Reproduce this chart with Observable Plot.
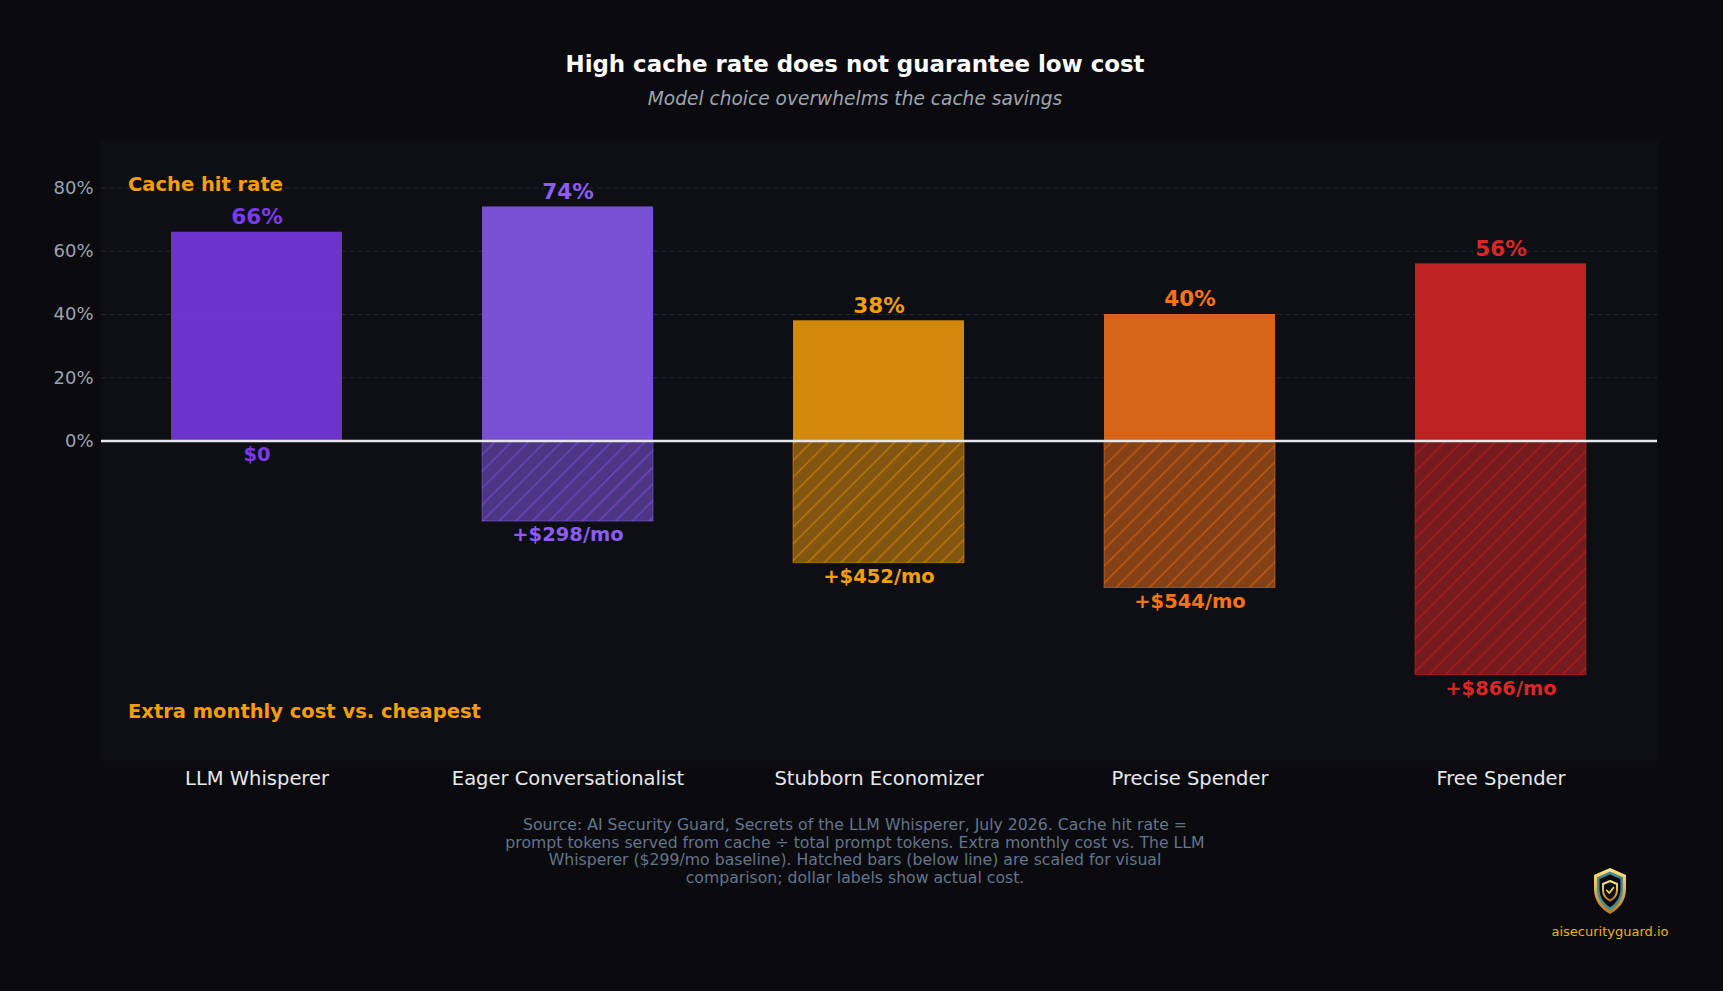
<!DOCTYPE html>
<html>
<head>
<meta charset="utf-8">
<script src="https://cdn.jsdelivr.net/npm/d3@7"></script>
<script src="https://cdn.jsdelivr.net/npm/@observablehq/plot@0.6"></script>
<style>
  html, body { margin: 0; padding: 0; background: #0b0b0f; }
  body { width: 1723px; height: 991px; position: relative; overflow: hidden; font-family: "DejaVu Sans", sans-serif; }
  #head { position: relative; height: 120px; width: 1710px; }
  #title { position: absolute; left: 0; right: 0; top: 52px; text-align: center; font-size: 22.9px; line-height: 25px; font-weight: bold; color: #ffffff; }
  #subtitle { position: absolute; left: 0; right: 0; top: 88px; text-align: center; font-size: 18.6px; line-height: 22px; font-style: italic; color: #9ca3af; }
  #chart svg { display: block; }
  #caption { width: 1710px; text-align: center; color: #64748b; font-size: 15.7px; line-height: 17.6px; padding-top: 16px; }
  #brand { position: absolute; left: 1550px; top: 867px; width: 120px; text-align: center; }
  #brand svg { display: block; margin: 0 auto; }
  #brand div { margin-top: 9px; font-size: 13px; color: #eab308; }
</style>
</head>
<body>
<div id="head">
  <div id="title">High cache rate does not guarantee low cost</div>
  <div id="subtitle">Model choice overwhelms the cache savings</div>
</div>
<div id="chart"></div>
<div id="caption">Source: AI Security Guard, Secrets of the LLM Whisperer, July 2026. Cache hit rate =<br>prompt tokens served from cache ÷ total prompt tokens. Extra monthly cost vs. The LLM<br>Whisperer ($299/mo baseline). Hatched bars (below line) are scaled for visual<br>comparison; dollar labels show actual cost.</div>
<div id="brand">
  <svg width="36" height="48" viewBox="0 0 36 48">
    <defs>
      <linearGradient id="gold" x1="0" y1="0" x2="0" y2="1">
        <stop offset="0" stop-color="#fde68a"/>
        <stop offset="1" stop-color="#b7791f"/>
      </linearGradient>
    </defs>
    <path d="M18 1 L34 8 V22 C34 34 27 42 18 47 C9 42 2 34 2 22 V8 Z" fill="url(#gold)"/>
    <path d="M18 4.5 L31 10.2 V22 C31 32 25.5 39 18 43.5 C10.5 39 5 32 5 22 V10.2 Z" fill="#4b8a8c"/>
    <path d="M18 7.5 L28.5 12 V22 C28.5 30.5 24 36.5 18 40.3 C12 36.5 7.5 30.5 7.5 22 V12 Z" fill="#0b0b0f"/>
    <path d="M18 14 L25 17 V23 C25 28 22 31.5 18 33.5 C14 31.5 11 28 11 23 V17 Z" fill="none" stroke="url(#gold)" stroke-width="2"/>
    <path d="M14.8 23.5 L17.2 26 L21.4 20.8" fill="none" stroke="#fcd34d" stroke-width="1.8" stroke-linecap="round" stroke-linejoin="round"/>
  </svg>
  <div>aisecurityguard.io</div>
</div>
<script>
// Personas and their measured numbers
const personas = ["LLM Whisperer", "Eager Conversationalist", "Stubborn Economizer", "Precise Spender", "Free Spender"];
const cacheHitRate = [66, 74, 38, 40, 56];          // percent of prompt tokens served from cache
const extraMonthlyCost = [0, 298, 452, 544, 866];   // USD per month above the cheapest persona
const personaColors = ["#7c3aed", "#8b5cf6", "#f59e0b", "#f97316", "#dc2626"];
const rateTicks = [0, 20, 40, 60, 80];

// Cost bars hang below the zero line, scaled so the largest cost matches the largest rate
const maxRate = d3.max(cacheHitRate);
const maxCost = d3.max(extraMonthlyCost);
const rows = personas.map((name, i) => ({
  name,
  rate: cacheHitRate[i],
  cost: extraMonthlyCost[i],
  color: personaColors[i],
  hatch: `url(#hatch-${i})`,
  scaled: -extraMonthlyCost[i] / maxCost * maxRate
}));

const font = "DejaVu Sans";

const chart = Plot.plot({
  width: 1723,
  height: 680,
  marginTop: 20,
  marginBottom: 40,
  marginLeft: 101,
  marginRight: 66,
  style: { background: "transparent", fontFamily: font, overflow: "visible" },
  x: { domain: personas, paddingInner: 0.45, paddingOuter: 0.225, label: null },
  y: { domain: [-101, 95], label: null },
  color: { type: "identity" },
  marks: [
    Plot.frame({ fill: "#0e0f14", stroke: "none" }),
    Plot.ruleY(rateTicks.filter(d => d > 0), { stroke: "#262832", strokeDasharray: "5,3", strokeWidth: 1.1 }),
    // cache hit rate bars (above the line)
    Plot.barY(rows, { x: "name", y1: 0, y2: "rate", fill: "color", fillOpacity: 0.85 }),
    // extra cost bars (below the line), tinted then hatched
    Plot.barY(rows, { x: "name", y1: 0, y2: "scaled", fill: "color", fillOpacity: 0.5 }),
    Plot.barY(rows, { x: "name", y1: 0, y2: "scaled", fill: "hatch", stroke: "color", strokeOpacity: 0.5, strokeWidth: 1 }),
    Plot.ruleY([0], { stroke: "#e5e7eb", strokeWidth: 2.5 }),
    Plot.text(rows, { x: "name", y: "rate", text: d => `${d.rate}%`, fill: "color", dy: -8, lineAnchor: "bottom", fontSize: 21.5, fontWeight: "bold" }),
    Plot.text(rows, { x: "name", y: "scaled", text: d => d.cost === 0 ? "$0" : `+$${d.cost}/mo`, fill: "color", dy: 6, lineAnchor: "top", fontSize: 19.5, fontWeight: "bold" }),
    Plot.text(["Cache hit rate"], { frameAnchor: "top-left", textAnchor: "start", lineAnchor: "bottom", dx: 26.5, dy: 50, fill: "#f59e0b", fontSize: 19.5, fontWeight: "bold" }),
    Plot.text(["Extra monthly cost vs. cheapest"], { frameAnchor: "bottom-left", textAnchor: "start", lineAnchor: "bottom", dx: 26.5, dy: -43, fill: "#f59e0b", fontSize: 19.5, fontWeight: "bold" }),
    Plot.axisY(rateTicks, { tickSize: 0, tickPadding: 8, tickFormat: d => `${d}%`, color: "#9ca3af", fontSize: 18, label: null }),
    Plot.axisX({ tickSize: 0, tickPadding: 11, color: "#e5e7eb", fontSize: 19.5, label: null })
  ]
});

// Diagonal hatch patterns, one per persona colour
const ns = "http://www.w3.org/2000/svg";
const defs = document.createElementNS(ns, "defs");
const s = 16.67;
personaColors.forEach((c, i) => {
  const p = document.createElementNS(ns, "pattern");
  p.setAttribute("id", `hatch-${i}`);
  p.setAttribute("patternUnits", "userSpaceOnUse");
  p.setAttribute("width", s);
  p.setAttribute("height", s);
  const path = document.createElementNS(ns, "path");
  path.setAttribute("d", `M0,${s} L${s},0 M${-s / 2},${s / 2} L${s / 2},${-s / 2} M${s / 2},${s * 1.5} L${s * 1.5},${s / 2}`);
  path.setAttribute("stroke", c);
  path.setAttribute("stroke-opacity", 0.5);
  path.setAttribute("stroke-width", 1.4);
  path.setAttribute("fill", "none");
  p.appendChild(path);
  defs.appendChild(p);
});
chart.insertBefore(defs, chart.firstChild);

document.getElementById("chart").appendChild(chart);
</script>
</body>
</html>
